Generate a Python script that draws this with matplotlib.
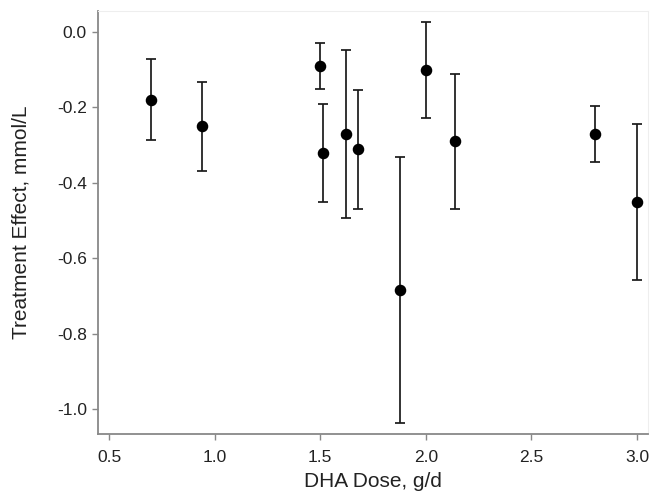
import matplotlib
matplotlib.use("Agg")
import matplotlib.pyplot as plt

plt.rcParams['font.family'] = ['Liberation Sans', 'DejaVu Sans']

# DHA dose (g/d), treatment effect and CI bounds (mmol/L)
dose = [0.70, 0.94, 1.50, 1.515, 1.62, 1.68, 1.88, 2.00, 2.14, 2.80, 3.00]
effect = [-0.18, -0.25, -0.09, -0.32, -0.27, -0.31, -0.685, -0.10, -0.29, -0.27, -0.45]
ci_upper = [-0.072, -0.132, -0.030, -0.190, -0.047, -0.153, -0.331, 0.026, -0.111, -0.196, -0.244]
ci_lower = [-0.287, -0.369, -0.151, -0.452, -0.494, -0.468, -1.037, -0.228, -0.470, -0.345, -0.658]

err_low = [e - l for e, l in zip(effect, ci_lower)]
err_high = [u - e for e, u in zip(effect, ci_upper)]

fig = plt.figure(figsize=(6.5, 4.96), dpi=100)
ax = fig.add_axes([0.1508, 0.125, 0.846, 0.853])

ax.errorbar(dose, effect, yerr=[err_low, err_high], fmt='o', color='black',
            ecolor='#1a1a1a', elinewidth=1.25, capsize=3.6, capthick=1.25,
            markersize=7.3)

ax.set_xlim(0.448, 3.052)
ax.set_ylim(-1.066, 0.056)
ax.set_xticks([0.5, 1.0, 1.5, 2.0, 2.5, 3.0])
ax.set_yticks([0.0, -0.2, -0.4, -0.6, -0.8, -1.0])
ax.set_xticklabels(['0.5', '1.0', '1.5', '2.0', '2.5', '3.0'])
ax.set_yticklabels(['0.0', '-0.2', '-0.4', '-0.6', '-0.8', '-1.0'])

for side in ['left', 'bottom']:
    ax.spines[side].set_color('#888888')
    ax.spines[side].set_linewidth(1.3)
for side in ['top', 'right']:
    ax.spines[side].set_color('#eeeeee')
    ax.spines[side].set_linewidth(0.8)

ax.tick_params(axis='both', colors='#888888', labelcolor='#222222',
               labelsize=12.5, length=4.5, width=1)
ax.tick_params(axis='x', pad=7)
ax.tick_params(axis='y', pad=3.5)
ax.tick_params(top=False, right=False)

ax.set_xlabel('DHA Dose, g/d', fontsize=15, color='#222222', labelpad=5)
ax.set_ylabel('Treatment Effect, mmol/L', fontsize=15, color='#222222', labelpad=19)

fig.savefig('out.png', dpi=100)
